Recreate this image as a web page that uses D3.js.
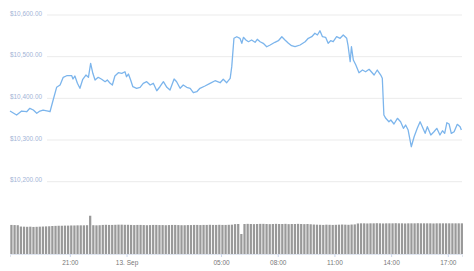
<!DOCTYPE html>
<html lang="en">
  <head>
    <meta charset="UTF-8" />
    <title>BTC price, last 24h</title>
    <script src="https://d3js.org/d3.v7.min.js"></script>
    <style>
      body {
        margin: 0;
        background-color: #fff;
        font-family: "Liberation Sans", Arial, sans-serif;
      }
      .y-label {
        fill: #a3b4d6;
        font-size: 6.4px;
      }
      .x-label {
        fill: #777;
        font-size: 6.5px;
      }
    </style>
  </head>
  <body>
    <div id="chart"></div>
    <script>
      // price readings (12 Sep 17:50 -> 13 Sep 17:43)
      const priceTimes = [
        "17:50", "18:11", "18:27", "18:43", "18:53", "19:04", "19:15", "19:25", "19:35", "19:51",
        "19:57", "20:07", "20:18", "20:29", "20:39", "20:50", "21:06", "21:10", "21:16", "21:24",
        "21:32", "21:41", "21:51", "21:59", "22:06", "22:13", "22:20", "22:30", "22:41", "22:52",
        "22:59", "23:08", "23:15", "23:23", "23:34", "23:45", "23:55", "00:00", "00:06", "00:13",
        "00:20", "00:32", "00:43", "00:53", "01:04", "01:15", "01:25", "01:36", "01:46", "01:57",
        "02:08", "02:18", "02:31", "02:39", "02:50", "03:00", "03:11", "03:22", "03:32", "03:43",
        "03:53", "04:09", "04:25", "04:41", "04:57", "05:07", "05:18", "05:29", "05:34", "05:41",
        "05:50", "06:00", "06:06", "06:11", "06:19", "06:27", "06:37", "06:48", "06:55", "07:04",
        "07:14", "07:25", "07:36", "07:51", "08:02", "08:13", "08:23", "08:34", "08:44", "08:55",
        "09:11", "09:27", "09:37", "09:48", "09:58", "10:06", "10:14", "10:22", "10:32", "10:40",
        "10:48", "10:56", "11:07", "11:18", "11:28", "11:39", "11:43", "11:50", "11:54", "12:00",
        "12:08", "12:18", "12:29", "12:39", "12:50", "13:06", "13:16", "13:27", "13:32", "13:37",
        "13:43", "13:53", "13:59", "14:09", "14:20", "14:30", "14:39", "14:46", "14:54", "15:04",
        "15:13", "15:23", "15:32", "15:39", "15:48", "15:55", "16:06", "16:16", "16:25", "16:35",
        "16:43", "16:50", "16:57", "17:04", "17:11", "17:20", "17:30", "17:39", "17:43"
      ];
      const prices = [
        10369.6, 10360.0, 10369.6, 10367.9, 10376.1, 10372.0, 10364.1, 10369.6, 10372.0, 10369.6,
        10367.9, 10396.0, 10426.5, 10432.0, 10450.5, 10454.3, 10454.3, 10446.4, 10453.6, 10436.1,
        10424.1, 10445.7, 10456.0, 10450.5, 10484.1, 10460.1, 10444.0, 10450.5, 10445.7, 10440.0,
        10444.0, 10436.1, 10432.0, 10453.6, 10461.5, 10460.1, 10463.9, 10451.9, 10458.4, 10444.0,
        10427.9, 10424.1, 10426.5, 10436.1, 10440.0, 10432.0, 10436.1, 10418.3, 10427.9, 10440.0,
        10426.5, 10420.0, 10446.4, 10440.0, 10424.1, 10432.0, 10426.5, 10424.1, 10413.5, 10415.9,
        10424.1, 10429.6, 10436.1, 10442.3, 10437.5, 10445.7, 10437.5, 10448.1, 10476.1, 10544.1,
        10547.9, 10544.1, 10532.1, 10546.5, 10540.0, 10535.9, 10540.0, 10534.5, 10541.7, 10535.9,
        10532.1, 10523.9, 10528.0, 10534.5, 10538.3, 10547.9, 10540.0, 10532.1, 10526.3, 10523.9,
        10528.0, 10535.9, 10544.1, 10547.9, 10556.1, 10552.0, 10562.3, 10547.9, 10546.5, 10532.1,
        10538.3, 10535.9, 10547.9, 10544.1, 10552.0, 10544.1, 10528.0, 10487.9, 10523.9, 10492.0,
        10480.0, 10461.5, 10468.0, 10463.9, 10469.7, 10456.0, 10468.0, 10456.0, 10448.1, 10360.0,
        10352.1, 10343.9, 10348.0, 10338.4, 10352.1, 10343.9, 10328.1, 10336.0, 10324.0, 10283.9,
        10307.9, 10328.1, 10343.9, 10331.9, 10316.1, 10331.9, 10312.0, 10319.9, 10328.1, 10312.0,
        10322.3, 10316.1, 10341.5, 10338.4, 10316.1, 10319.9, 10337.7, 10331.9, 10324.0
      ];

      // 24h volume (billions USD), one bar per 10 minutes from 17:50
      const volumes = [
        21.8, 21.7, 21.6, 20.6, 20.5, 20.4, 20.5, 20.3, 20.4, 20.5,
        20.6, 20.7, 20.8, 21.0, 21.1, 21.2, 21.2, 21.3, 21.3, 21.4,
        21.4, 21.5, 21.5, 21.5, 21.6, 28.7, 21.6, 21.5, 21.6, 21.8,
        21.9, 21.8, 21.8, 21.9, 22.0, 22.0, 21.9, 21.9, 21.8, 21.7,
        21.8, 21.8, 21.7, 21.6, 21.7, 21.8, 21.8, 21.7, 21.7, 21.6,
        21.7, 21.8, 21.8, 21.7, 21.6, 21.6, 21.7, 21.7, 21.8, 21.8,
        21.7, 21.8, 21.8, 21.9, 21.8, 21.8, 21.9, 21.8, 21.8, 21.9,
        22.0, 22.4, 22.5, 15.0, 22.5, 22.6, 22.5, 22.4, 22.5, 22.6,
        22.6, 22.5, 22.4, 22.5, 22.6, 22.5, 22.5, 22.6, 22.4, 22.5,
        22.5, 22.6, 22.5, 22.4, 22.5, 22.3, 22.1, 22.0, 21.9, 21.8,
        22.0, 21.9, 21.8, 21.9, 22.0, 22.1, 22.0, 21.9, 22.1, 22.2,
        22.9, 23.0, 23.0, 22.9, 23.0, 23.0, 23.1, 23.0, 22.9, 23.0,
        23.0, 23.0, 23.1, 23.0, 23.0, 22.9, 23.0, 23.0, 23.0, 23.1,
        23.0, 23.0, 23.0, 23.0, 22.9, 23.0, 23.0, 23.0, 23.0, 23.0,
        23.0, 23.0, 23.0, 23.0
      ];

      const priceTicks = [10200, 10300, 10400, 10500, 10600];
      const timeTicks = ["21:00", "00:00", "05:00", "08:00", "11:00", "14:00", "17:00"];
      const timeTickLabels = ["21:00", "13. Sep", "05:00", "08:00", "11:00", "14:00", "17:00"];
      const rangeStart = "17:50";
      const rangeEnd = "17:45";

      const width = 474;
      const height = 271;
      const margin = { left: 10, right: 12 };
      const priceTop = 15;
      const priceBottom = 181.7;
      const volumeBottom = 254;
      const volumeTop = 214;

      // turn "HH:MM" into a date, rolling into 13 Sep after midnight
      function toDates(list, dayStart) {
        let day = dayStart;
        let prev = -1;
        return list.map((s) => {
          const [h, m] = s.split(":").map(Number);
          const mins = h * 60 + m;
          if (mins < prev) day += 1;
          prev = mins;
          return new Date(2020, 8, day, h, m);
        });
      }

      const priceDates = toDates(priceTimes, 12);
      const data = priceDates.map((d, i) => ({ date: d, price: prices[i] }));
      const start = toDates([rangeStart], 12)[0];
      const end = toDates([rangeEnd], 13)[0];
      const tickDates = toDates(timeTicks, 12);
      tickDates.forEach((d, i) => {
        if (i > 0) d.setDate(13);
      });

      const x = d3.scaleTime().domain([start, end]).range([margin.left, width - margin.right]);
      const y = d3.scaleLinear().domain([10200, 10600]).range([priceBottom, priceTop]);
      const yVol = d3.scaleLinear().domain([0, 30]).range([volumeBottom, volumeTop]);

      const svg = d3
        .select("#chart")
        .append("svg")
        .attr("width", width)
        .attr("height", height);

      // grid lines and price labels
      const fmt = d3.format("$,.2f");
      const grid = svg.append("g");
      priceTicks.forEach((t) => {
        grid
          .append("line")
          .attr("x1", 47)
          .attr("x2", width - margin.right)
          .attr("y1", y(t))
          .attr("y2", y(t))
          .attr("stroke", "#ebebeb")
          .attr("stroke-width", 1);
        grid
          .append("text")
          .attr("class", "y-label")
          .attr("x", margin.left)
          .attr("y", y(t) + 0.5)
          .text(fmt(t));
      });

      // volume bars
      const barDates = d3.timeMinute.every(10).range(start, d3.timeMinute.offset(start, 10 * volumes.length));
      const barW = x(barDates[1]) - x(barDates[0]);
      svg
        .append("g")
        .selectAll("rect")
        .data(volumes)
        .join("rect")
        .attr("x", (d, i) => x(barDates[i]) + 0.3)
        .attr("width", barW - 0.9)
        .attr("y", (d) => yVol(d))
        .attr("height", (d) => volumeBottom - yVol(d))
        .attr("fill", "#999999");

      // x axis
      const xAxis = d3
        .axisBottom(x)
        .tickValues(tickDates)
        .tickSize(3)
        .tickFormat((d, i) => timeTickLabels[i]);
      const ax = svg
        .append("g")
        .attr("transform", `translate(0,${volumeBottom})`)
        .call(xAxis);
      ax.select(".domain").attr("stroke", "#dfe5f0");
      ax.selectAll(".tick line").attr("stroke", "#ccd6eb");
      ax.selectAll(".tick text")
        .attr("class", "x-label")
        .attr("y", 6.5)
        .attr("font-family", null)
        .attr("font-size", null)
        .attr("fill", null);

      // price line
      const line = d3
        .line()
        .x((d) => x(d.date))
        .y((d) => y(d.price));
      svg
        .append("path")
        .datum(data)
        .attr("d", line)
        .attr("fill", "none")
        .attr("stroke", "#7cb5ec")
        .attr("stroke-width", 1.3)
        .attr("stroke-linejoin", "round");
    </script>
  </body>
</html>
